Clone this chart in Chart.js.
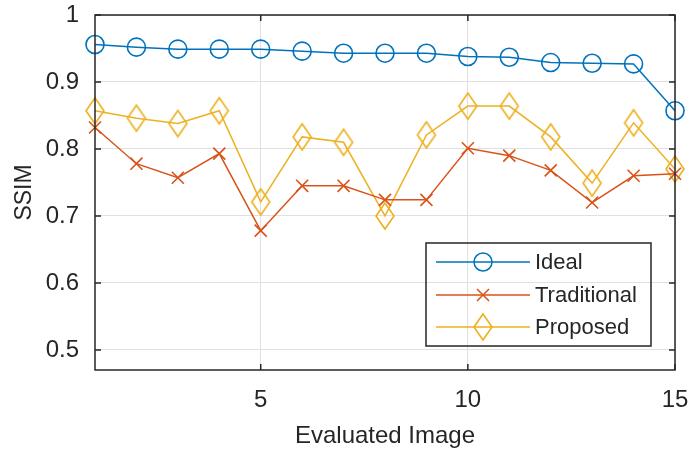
<!DOCTYPE html>
<html>
<head>
<meta charset="utf-8">
<script src="https://cdn.jsdelivr.net/npm/chart.js@4.4.0/dist/chart.umd.min.js"></script>
<style>
  html, body { margin: 0; padding: 0; background: #fff; }
  #wrap { width: 689px; height: 455px; }
</style>
</head>
<body>
<div id="wrap"><canvas id="ssimChart" width="689" height="455"></canvas></div>
<script>
// values
var images = [1, 2, 3, 4, 5, 6, 7, 8, 9, 10, 11, 12, 13, 14, 15];
var ideal = [0.956, 0.952, 0.949, 0.949, 0.949, 0.946, 0.943, 0.943, 0.943, 0.938, 0.937, 0.929, 0.928, 0.927, 0.857];
var traditional = [0.832, 0.778, 0.757, 0.793, 0.678, 0.745, 0.745, 0.724, 0.724, 0.801, 0.790, 0.768, 0.720, 0.760, 0.763];
var proposed = [0.857, 0.846, 0.838, 0.857, 0.721, 0.818, 0.810, 0.700, 0.821, 0.864, 0.864, 0.818, 0.749, 0.839, 0.770];
var xTicks = [5, 10, 15];
var yTicks = [0.5, 0.6, 0.7, 0.8, 0.9, 1];

var BLUE = "#0072BD", RED = "#D95319", YELLOW = "#EDB120";
var AXIS = "#262626", GRID = "#e0e0e0";
var FONT = "'Liberation Sans', Arial, sans-serif";

// matlab diamonds are taller than wide
function diamond(color) {
    var c = document.createElement("canvas");
    c.width = 22; c.height = 30;
    var g = c.getContext("2d");
    g.strokeStyle = color;
    g.lineWidth = 1.6;
    g.beginPath();
    g.moveTo(11, 2);
    g.lineTo(20, 15);
    g.lineTo(11, 28);
    g.lineTo(2, 15);
    g.closePath();
    g.stroke();
    return c;
}
var diamondMark = diamond(YELLOW);

var series = [
    { label: "Ideal", data: ideal, color: BLUE, style: "circle", r: 9 },
    { label: "Traditional", data: traditional, color: RED, style: "crossRot", r: 8.5 },
    { label: "Proposed", data: proposed, color: YELLOW, style: diamondMark, r: 11 }
];

// box, inward ticks and legend drawn like matlab
var frame = {
    id: "frame",
    afterDatasetsDraw: function(chart) {
        var ctx = chart.ctx, a = chart.chartArea;
        var xs = chart.scales.x, ys = chart.scales.y;
        ctx.save();
        ctx.strokeStyle = AXIS;
        ctx.lineWidth = 1.5;
        ctx.strokeRect(a.left, a.top, a.right - a.left, a.bottom - a.top);
        ctx.beginPath();
        xTicks.forEach(function(v) {
            var px = xs.getPixelForValue(v);
            ctx.moveTo(px, a.bottom); ctx.lineTo(px, a.bottom - 6);
            ctx.moveTo(px, a.top); ctx.lineTo(px, a.top + 6);
        });
        yTicks.forEach(function(v) {
            var py = ys.getPixelForValue(v);
            ctx.moveTo(a.left, py); ctx.lineTo(a.left + 6, py);
            ctx.moveTo(a.right, py); ctx.lineTo(a.right - 6, py);
        });
        ctx.stroke();

        // legend
        var bx = 426, by = 243, bw = 225, bh = 103;
        ctx.lineWidth = 1.5;
        ctx.strokeRect(bx, by, bw, bh);
        var rows = [262, 295, 327];
        series.forEach(function(s, i) {
            var y = rows[i];
            ctx.strokeStyle = s.color;
            ctx.lineWidth = 1.5;
            ctx.beginPath();
            ctx.moveTo(436, y); ctx.lineTo(530, y);
            ctx.stroke();
            Chart.helpers.drawPoint(ctx, { pointStyle: s.style, radius: s.r, borderWidth: 1.6 }, 483, y);
            ctx.fillStyle = AXIS;
            ctx.font = "22px " + FONT;
            ctx.textBaseline = "middle";
            ctx.textAlign = "left";
            ctx.fillText(s.label, 535, y + 1);
        });
        ctx.restore();
    }
};

var ctx = document.getElementById("ssimChart").getContext("2d");
var chart = new Chart(ctx, {
    type: "line",
    data: {
        labels: images,
        datasets: series.map(function(s) {
            return {
                label: s.label,
                data: s.data,
                borderColor: s.color,
                backgroundColor: "rgba(0,0,0,0)",
                borderWidth: 1.5,
                pointStyle: s.style,
                pointRadius: s.r,
                pointBorderWidth: 1.6,
                pointBorderColor: s.color,
                pointBackgroundColor: "rgba(0,0,0,0)",
                tension: 0
            };
        })
    },
    options: {
        responsive: false,
        animation: false,
        events: [],
        clip: false,
        layout: { padding: { left: 0, right: 14, top: 15, bottom: 0 } },
        plugins: { legend: { display: false }, tooltip: { enabled: false } },
        scales: {
            x: {
                type: "linear",
                min: 1,
                max: 15,
                afterBuildTicks: function(scale) {
                    scale.ticks = xTicks.map(function(v) { return { value: v }; });
                },
                afterFit: function(scale) {
                    scale.height = 85;
                    scale.paddingLeft = 0;
                    scale.paddingRight = 0;
                },
                grid: { color: GRID, lineWidth: 1, drawTicks: false },
                border: { display: false },
                ticks: {
                    color: AXIS,
                    font: { family: FONT, size: 24 },
                    padding: 16,
                    maxRotation: 0,
                    callback: function(v) { return String(v); }
                },
                title: {
                    display: true,
                    text: "Evaluated Image",
                    color: AXIS,
                    font: { family: FONT, size: 24 },
                    padding: { top: 0, bottom: 4 }
                }
            },
            y: {
                min: 0.47,
                max: 1,
                afterBuildTicks: function(scale) {
                    scale.ticks = yTicks.map(function(v) { return { value: v }; });
                },
                afterFit: function(scale) {
                    scale.width = 95;
                    scale.paddingTop = 0;
                    scale.paddingBottom = 0;
                },
                grid: { color: GRID, lineWidth: 1, drawTicks: false },
                border: { display: false },
                ticks: {
                    color: AXIS,
                    font: { family: FONT, size: 24 },
                    padding: 16,
                    callback: function(v) { return String(Math.round(v * 10) / 10); }
                },
                title: {
                    display: true,
                    text: "SSIM",
                    color: AXIS,
                    font: { family: FONT, size: 23 },
                    padding: { top: 11, bottom: 0 }
                }
            }
        }
    },
    plugins: [frame]
});
</script>
</body>
</html>
